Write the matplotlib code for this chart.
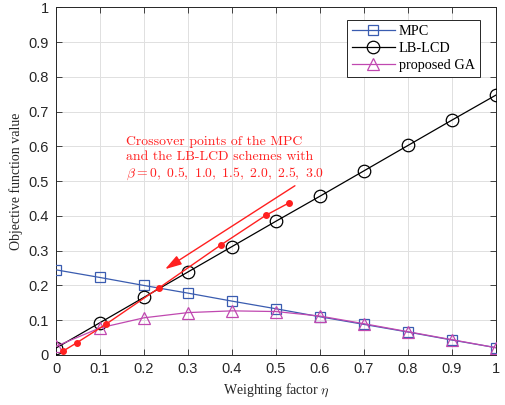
import matplotlib
matplotlib.use("Agg")
import matplotlib.pyplot as plt
import numpy as np

eta = [0, 0.1, 0.2, 0.3, 0.4, 0.5, 0.6, 0.7, 0.8, 0.9, 1.0]
mpc = [0.245, 0.223, 0.200, 0.178, 0.155, 0.133, 0.110, 0.088, 0.066, 0.043, 0.021]
lblcd = [0.020, 0.093, 0.166, 0.239, 0.312, 0.385, 0.457, 0.530, 0.603, 0.676, 0.748]
ga = [0.025, 0.078, 0.107, 0.122, 0.127, 0.125, 0.112, 0.090, 0.067, 0.044, 0.021]

cross_x = [0.017, 0.047, 0.114, 0.233, 0.374, 0.477, 0.530]
cross_y = [0.012, 0.035, 0.089, 0.192, 0.316, 0.402, 0.438]

xticks = [0, 0.1, 0.2, 0.3, 0.4, 0.5, 0.6, 0.7, 0.8, 0.9, 1]
yticks = [0, 0.1, 0.2, 0.3, 0.4, 0.5, 0.6, 0.7, 0.8, 0.9, 1]
xticklabels = ["0", "0.1", "0.2", "0.3", "0.4", "0.5", "0.6", "0.7", "0.8", "0.9", "1"]
yticklabels = ["0", "0.1", "0.2", "0.3", "0.4", "0.5", "0.6", "0.7", "0.8", "0.9", "1"]

c_mpc = "#3a5cb0"
c_ga = "#c048b0"
c_red = "#ff2020"

fig = plt.figure(figsize=(5.06, 4.05), dpi=100)
ax = fig.add_axes([0.1107, 0.1235, 0.8695, 0.858])

ax.plot(eta, mpc, color=c_mpc, lw=0.9, marker="s", ms=7.5, mfc="none", mec=c_mpc, mew=0.9, label="MPC", zorder=3)
ax.plot(eta, lblcd, color="black", lw=0.9, marker="o", ms=9, mfc="none", mec="black", mew=0.9, label="LB-LCD", zorder=3)
ax.plot(eta, ga, color=c_ga, lw=0.9, marker="^", ms=9, mfc="none", mec=c_ga, mew=0.9, label="proposed GA", zorder=3)
ax.plot(cross_x, cross_y, color=c_red, lw=1.0, marker="o", ms=4, mfc=c_red, mec=c_red, zorder=4)

ax.annotate("", xy=(0.248, 0.247), xytext=(0.543, 0.487),
            arrowprops=dict(arrowstyle="-|>,head_length=1.0,head_width=0.3", color=c_red, lw=1.0,
                            shrinkA=0, shrinkB=0), zorder=5)

ax.text(0.159, 0.512,
        "Crossover points of the MPC\nand the LB-LCD schemes with\n"
        r"$\beta = 0,\ 0.5,\ 1.0,\ 1.5,\ 2.0,\ 2.5,\ 3.0$",
        color=c_red, fontsize=9.9, family="cmr10", va="baseline", ha="left", linespacing=1.28,
        math_fontfamily="cm")

ax.set_xlim(0, 1)
ax.set_ylim(0, 1)
ax.set_xticks(xticks)
ax.set_yticks(yticks)
ax.set_xticklabels(xticklabels, family="Liberation Sans", fontsize=10.5, color="#262626")
ax.set_yticklabels(yticklabels, family="Liberation Sans", fontsize=10.5, color="#262626")
ax.tick_params(direction="in", top=True, right=True, length=4, width=0.6, colors="#262626", pad=5)
ax.grid(True, color="#e0e0e0", lw=0.7)
ax.set_axisbelow(True)
for s in ax.spines.values():
    s.set_color("#262626")
    s.set_linewidth(0.7)

ax.set_xlabel(r"Weighting factor $\eta$", family="Liberation Serif", fontsize=10, color="#262626", math_fontfamily="cm")
ax.set_ylabel("Objective function value", family="Liberation Serif", fontsize=10, color="#262626")

leg = ax.legend(loc="upper right", bbox_to_anchor=(0.98, 0.985), prop={"family": "Liberation Serif", "size": 10.3},
                fancybox=False, edgecolor="#262626", framealpha=1, handlelength=3.0,
                borderpad=0.35, labelspacing=0.3, handletextpad=0.3)
leg.get_frame().set_linewidth(0.7)

fig.savefig("out.png", dpi=100)
